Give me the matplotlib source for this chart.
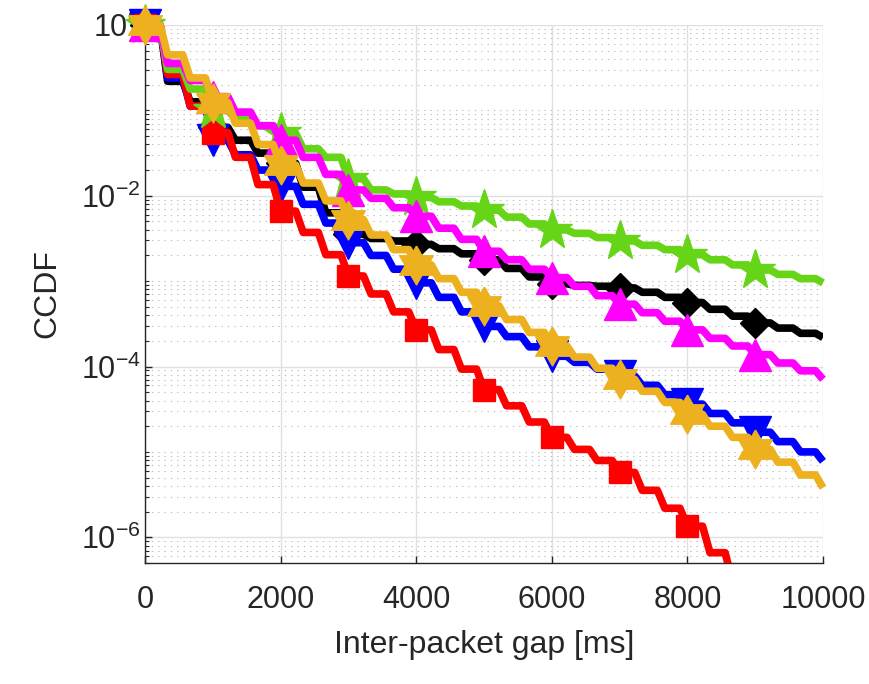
import numpy as np
import matplotlib
matplotlib.use("Agg")
import matplotlib.pyplot as plt
from matplotlib.ticker import LogLocator, FixedLocator, FuncFormatter, NullFormatter

plt.rcParams['font.family'] = ['Liberation Sans', 'DejaVu Sans']
plt.rcParams['mathtext.fontset'] = 'custom'
plt.rcParams['mathtext.rm'] = 'Liberation Sans'
plt.rcParams['mathtext.it'] = 'Liberation Sans:italic'
plt.rcParams['mathtext.bf'] = 'Liberation Sans:bold'

# ---------------- data ----------------
gap_ms = np.linspace(0, 10000, 31)          # step grid (ms)

ccdf_black = [1.0, 0.219, 0.126, 0.0631, 0.0447, 0.0316, 0.0240, 0.0126, 6.31e-3,
              3.55e-3, 3.16e-3, 2.95e-3, 2.69e-3, 2.40e-3, 2.09e-3, 1.78e-3, 1.41e-3,
              1.12e-3, 9.33e-4, 8.91e-4, 8.71e-4, 8.32e-4, 7.41e-4, 6.46e-4, 5.62e-4,
              4.68e-4, 3.89e-4, 3.24e-4, 2.82e-4, 2.45e-4, 2.19e-4]
ccdf_blue = [1.0, 0.240, 0.112, 0.0447, 0.0302, 0.0200, 0.0129, 7.94e-3, 4.79e-3,
             2.82e-3, 2.00e-3, 1.38e-3, 9.55e-4, 6.46e-4, 4.37e-4, 2.95e-4, 2.24e-4,
             1.70e-4, 1.32e-4, 1.12e-4, 9.33e-5, 7.76e-5, 6.03e-5, 4.68e-5, 3.63e-5,
             2.82e-5, 2.19e-5, 1.70e-5, 1.32e-5, 1.00e-5, 7.76e-6]
ccdf_red = [1.0, 0.263, 0.112, 0.0550, 0.0282, 0.0135, 6.61e-3, 3.72e-3, 2.04e-3,
            1.15e-3, 7.08e-4, 4.37e-4, 2.69e-4, 1.58e-4, 9.33e-5, 5.37e-5, 3.47e-5,
            2.24e-5, 1.48e-5, 1.07e-5, 7.94e-6, 5.75e-6, 3.55e-6, 2.19e-6, 1.35e-6,
            6.6e-7, 3.0e-7, np.nan, np.nan, np.nan, np.nan]
ccdf_green = [1.0, 0.302, 0.178, 0.100, 0.0794, 0.0661, 0.0537, 0.0355, 0.0282,
              0.0158, 0.0117, 0.0105, 9.55e-3, 8.51e-3, 7.59e-3, 6.76e-3, 5.62e-3,
              4.68e-3, 3.98e-3, 3.63e-3, 3.24e-3, 2.95e-3, 2.63e-3, 2.34e-3, 2.04e-3,
              1.78e-3, 1.55e-3, 1.35e-3, 1.20e-3, 1.07e-3, 9.55e-4]
ccdf_magenta = [1.0, 0.355, 0.224, 0.145, 0.0955, 0.0661, 0.0447, 0.0282, 0.0178,
                0.0117, 9.33e-3, 7.24e-3, 5.75e-3, 4.17e-3, 3.09e-3, 2.24e-3, 1.78e-3,
                1.38e-3, 1.10e-3, 8.71e-4, 6.76e-4, 5.37e-4, 4.27e-4, 3.39e-4, 2.69e-4,
                2.14e-4, 1.74e-4, 1.38e-4, 1.10e-4, 8.91e-5, 7.08e-5]
ccdf_orange = [1.0, 0.447, 0.240, 0.123, 0.0708, 0.0398, 0.0229, 0.0141, 8.71e-3,
               5.25e-3, 3.47e-3, 2.34e-3, 1.55e-3, 1.07e-3, 7.41e-4, 5.13e-4, 3.55e-4,
               2.51e-4, 1.74e-4, 1.29e-4, 9.55e-5, 7.08e-5, 5.13e-5, 3.80e-5, 2.75e-5,
               2.00e-5, 1.48e-5, 1.07e-5, 7.59e-6, 5.37e-6, 3.80e-6]

x_ticks = [0, 2000, 4000, 6000, 8000, 10000]
y_major = [1e-6, 1e-4, 1e-2, 1e0]

# ---------------- styling ----------------
# hexagram marker shape
ang_out = np.deg2rad(90 + 60 * np.arange(6))
ang_in = ang_out + np.deg2rad(30)
r_in = 1 / np.sqrt(3)
hex_verts = []
for a, b in zip(ang_out, ang_in):
    hex_verts.append((np.cos(a), np.sin(a)))
    hex_verts.append((r_in * np.cos(b), r_in * np.sin(b)))
hex_verts.append(hex_verts[0])

series = [
    (ccdf_black, '#000000', 'D', 15, True),
    (ccdf_blue, '#0000FF', 'v', 23, False),
    (ccdf_red, '#FF0000', 's', 16.5, True),
    (ccdf_green, '#66D417', '*', 30, False),
    (ccdf_magenta, '#FF00FF', '^', 23, False),
    (ccdf_orange, '#EDB120', hex_verts, 28, False),
]

SLANT = 110.0   # ms over which each step drop is drawn (soft staircase look)


def soft_steps(t, v):
    """Staircase path with slightly slanted drops."""
    xs, ys = [], []
    n = len(t)
    for i in range(n):
        xs.append(t[i]); ys.append(v[i])
        if i < n - 1:
            xs.append(t[i + 1] - SLANT); ys.append(v[i])
    return np.array(xs), np.array(ys, dtype=float)


fig = plt.figure(figsize=(8.7, 6.84), dpi=100)
ax = fig.add_axes([145 / 870, 1 - 563 / 684, (823 - 145) / 870, (563 - 25) / 684])

for k, (vals, col, mk, ms, clip) in enumerate(series):
    lx, ly = soft_steps(gap_ms, vals)
    z = 3 + k * 0.1
    ax.plot(lx, ly, color=col, lw=5.5, solid_joinstyle='round',
            solid_capstyle='butt', clip_on=clip, zorder=z)
    ax.plot(gap_ms[0:30:3], np.asarray(vals, dtype=float)[0:30:3], ls='none',
            marker=mk, markersize=ms, markerfacecolor=col, markeredgecolor=col,
            markeredgewidth=1.0, clip_on=False, zorder=z + 0.05)

ax.set_yscale('log')
ax.set_xlim(0, 10000)
ax.set_ylim(5e-7, 1)
ax.set_xticks(x_ticks)
ax.yaxis.set_major_locator(FixedLocator(y_major))
ax.yaxis.set_minor_locator(LogLocator(base=10, subs=np.arange(1, 10), numticks=50))
ax.yaxis.set_minor_formatter(NullFormatter())
ax.yaxis.set_major_formatter(FuncFormatter(lambda v, p: r'$\mathregular{10^{%d}}$' % int(round(np.log10(v)))))

ax.grid(True, which='major', color='#e0e0e0', lw=1.0, ls='-')
ax.grid(True, which='minor', axis='y', color='#bdbdbd', lw=0.8, ls=(0, (1.2, 4.5)))
ax.set_axisbelow(True)

for s in ['top', 'right']:
    ax.spines[s].set_visible(False)
for s in ['left', 'bottom']:
    ax.spines[s].set_color('#262626')
    ax.spines[s].set_linewidth(1.0)
    ax.spines[s].set_zorder(2.5)

ax.tick_params(axis='both', which='major', direction='in', length=5, width=1,
               color='#262626', labelcolor='#262626', labelsize=22)
ax.tick_params(axis='y', which='minor', direction='in', length=3, width=0.8, color='#262626')
ax.tick_params(axis='x', which='major', pad=16)
ax.tick_params(axis='y', which='major', pad=3)

ax.set_xlabel('Inter-packet gap [ms]', fontsize=23, color='#262626')
ax.set_ylabel('CCDF', fontsize=23, color='#262626')
ax.xaxis.set_label_coords(0.5, -0.124)
ax.yaxis.set_label_coords(-0.122, 0.5)

fig.savefig('out.png', dpi=100)
